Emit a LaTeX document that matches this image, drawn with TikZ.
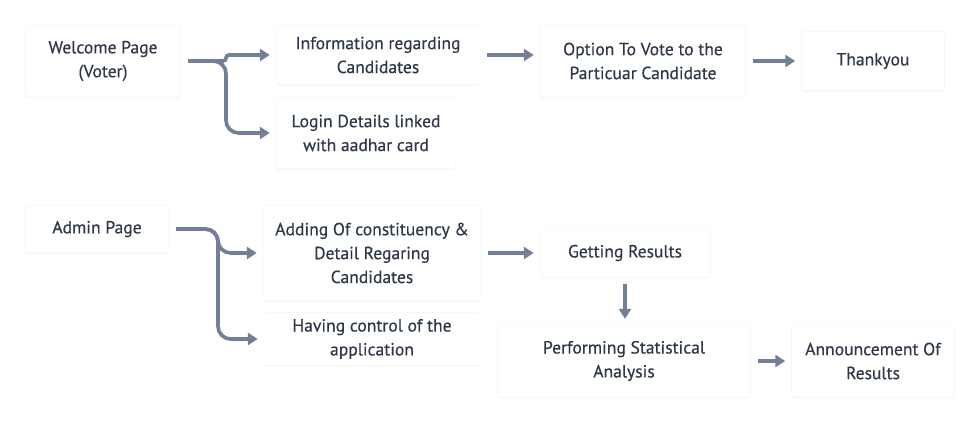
\documentclass[tikz,border=0pt]{standalone}
\usepackage{fontspec}
\setmainfont{PT Sans}[FakeBold=0.35]
\usepackage{tikz}
\usetikzlibrary{positioning, arrows.meta, calc, shadows}

\definecolor{inktext}{HTML}{2D3748}
\definecolor{inkflow}{HTML}{718096}

\tikzset{
  card/.style={fill=white, draw=black!3, line width=0.4pt, rounded corners=2pt,
    drop shadow={shadow xshift=0pt, shadow yshift=-1pt, opacity=0.06},
    align=center, text=inktext, font=\fontsize{12.5}{17}\selectfont, inner sep=0pt},
  flow/.style={draw=inkflow, line width=2.6pt, rounded corners=9pt,
    -{Triangle[length=7pt, width=8.5pt]}, shorten <=0.17cm, shorten >=0.15cm}
}

\begin{document}
\begin{tikzpicture}
\useasboundingbox[fill=white] (0, 0) rectangle (24.5, -10.55);

\node[card, minimum width=3.9cm, minimum height=1.8cm] (welcome) at (2.575, -1.525){Welcome Page\\(Voter)};
\node[card, minimum width=5.1cm, minimum height=1.475cm] (info) at (9.45, -1.375){Information regarding\\Candidates};
\node[card, minimum width=4.5cm, minimum height=1.775cm] (login) at (9.15, -3.325){Login Details linked\\with aadhar card};
\node[card, minimum width=5.15cm, minimum height=1.8cm] (option) at (16.075, -1.525){Option To Vote to the\\Particuar Candidate};
\node[card, minimum width=3.575cm, minimum height=1.475cm] (thanks) at (21.825, -1.525){Thankyou};

\node[card, minimum width=3.6cm, minimum height=1.175cm] (admin) at (2.425, -5.725){Admin Page};
\node[card, minimum width=5.45cm, minimum height=2.375cm] (adding) at (9.3, -6.325){Adding Of constituency \&\\Detail Regaring\\Candidates};
\node[card, minimum width=5.4cm, minimum height=1.325cm] (having) at (9.3, -8.475){Having control of the\\application};
\node[card, minimum width=4.25cm, minimum height=1.2cm] (getting) at (15.625, -6.325){Getting Results};
\node[card, minimum width=6.325cm, minimum height=1.8cm] (perform) at (15.6, -9.025){Performing Statistical\\Analysis};
\node[card, minimum width=4.075cm, minimum height=1.8cm] (announce) at (21.825, -9.025){Announcement Of\\Results};

\coordinate (voterfork) at (5.65, -1.525);
\coordinate (adminfork) at (5.45, -5.725);

\draw[flow, rounded corners=2pt] (welcome.east) -- (voterfork) |- (info.west);
\draw[flow] (welcome.east) -- (voterfork) |- (login.west);
\draw[flow] (info.east) -- (info.east -| option.west);
\draw[flow] (option.east) -- (thanks.west);

\draw[flow] (admin.east) -- (adminfork) |- (adding.west);
\draw[flow] (admin.east) -- (adminfork) |- (having.west);
\draw[flow] (adding.east) -- (getting.west);
\draw[flow] (getting.south) -- (getting.south |- perform.north);
\draw[flow] (perform.east) -- (announce.west);
\end{tikzpicture}
\end{document}
